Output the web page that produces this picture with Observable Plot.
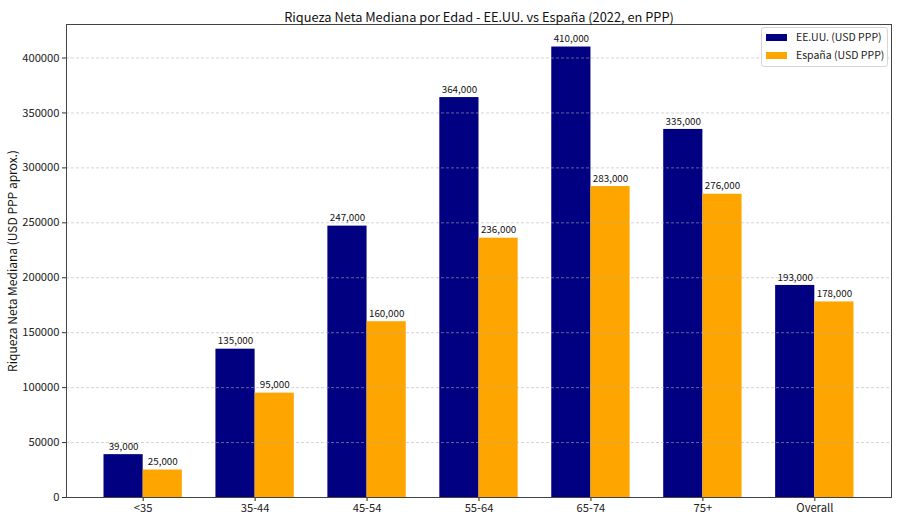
<!DOCTYPE html>
<html>
<head>
<meta charset="utf-8">
<script src="https://cdn.jsdelivr.net/npm/d3@7"></script>
<script src="https://cdn.jsdelivr.net/npm/@observablehq/plot@0.6"></script>
<style>
  body { margin: 0; background: #fff; }
  #wrap { position: relative; width: 900px; height: 523px; font-family: "Noto Sans CJK SC", "Noto Sans", sans-serif; }
  #legend { position: absolute; left: 761px; top: 27px; width: 127px; height: 40px; border: 1px solid #d6d6d6; border-radius: 3px; background: rgba(255,255,255,0.85); box-sizing: border-box; font-size: 10.5px; color: #222; }
  .row { position: absolute; left: 4px; display: flex; align-items: center; white-space: nowrap; line-height: 14px; }
  .sw { width: 21px; height: 7px; margin-right: 9px; flex: none; }
</style>
</head>
<body>
<div id="wrap"></div>
<script>
const categories = ["<35", "35-44", "45-54", "55-64", "65-74", "75+", "Overall"];
const usValues = [39000, 135000, 247000, 364000, 410000, 335000, 193000];
const esValues = [25000, 95000, 160000, 236000, 283000, 276000, 178000];
const seriesNames = ["EE.UU. (USD PPP)", "España (USD PPP)"];
const seriesColors = ["#000080", "#FFA500"];
const yTicks = [0, 50000, 100000, 150000, 200000, 250000, 300000, 350000, 400000];

const barW = 0.35;
const data = [];
categories.forEach((c, i) => {
  data.push({cat: c, i, series: seriesNames[0], value: usValues[i], x1: i - barW, x2: i});
  data.push({cat: c, i, series: seriesNames[1], value: esValues[i], x1: i, x2: i + barW});
});

const fmt = d3.format(",");

const chart = Plot.plot({
  width: 900,
  height: 523,
  marginTop: 24,
  marginBottom: 26,
  marginLeft: 66,
  marginRight: 9,
  style: {fontFamily: '"Noto Sans CJK SC", "Noto Sans", sans-serif', fontSize: "11.2px", color: "#222", background: "#fff"},
  x: {domain: [-0.685, 6.685], axis: null},
  y: {domain: [0, 430500], axis: null},
  color: {domain: seriesNames, range: seriesColors},
  marks: [
    Plot.rectY(data, {x1: "x1", x2: "x2", y1: 0, y2: "value", fill: "series"}),
    Plot.ruleY(yTicks.slice(1), {stroke: "#b0b0b0", strokeOpacity: 0.7, strokeDasharray: "3,2", strokeWidth: 0.8}),
    Plot.text(data, {x: d => (d.x1 + d.x2) / 2, y: "value", text: d => fmt(d.value), dy: -8, fontSize: 9.8, fill: "#111"}),
    Plot.axisY({ticks: yTicks, tickFormat: d => String(d), tickSize: 4, tickPadding: 3, fontSize: 11.2, label: null, stroke: "#333"}),
    Plot.axisX({ticks: d3.range(categories.length), tickFormat: i => categories[i], tickSize: 4, tickPadding: 3, fontSize: 11.2, label: null}),
    Plot.frame({stroke: "#444", strokeWidth: 1}),
    Plot.text(["Riqueza Neta Mediana por Edad - EE.UU. vs España (2022, en PPP)"], {frameAnchor: "top", dy: -12, fontSize: 12.8, fill: "#111"}),
    Plot.text(["Riqueza Neta Mediana (USD PPP aprox.)"], {frameAnchor: "left", textAnchor: "middle", dx: -53, rotate: -90, fontSize: 12, fill: "#111"})
  ]
});

const wrap = document.getElementById("wrap");
wrap.appendChild(chart);

const legend = document.createElement("div");
legend.id = "legend";
seriesNames.forEach((n, k) => {
  const row = document.createElement("div");
  row.className = "row";
  row.style.top = (2 + k * 18) + "px";
  const sw = document.createElement("div");
  sw.className = "sw";
  sw.style.background = seriesColors[k];
  const lab = document.createElement("span");
  lab.textContent = n;
  row.appendChild(sw);
  row.appendChild(lab);
  legend.appendChild(row);
});
wrap.appendChild(legend);
</script>
</body>
</html>
